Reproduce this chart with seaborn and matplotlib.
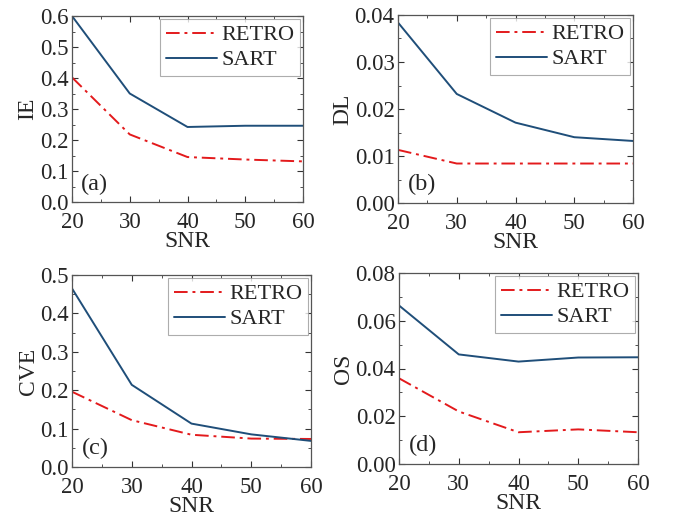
import matplotlib
matplotlib.use("Agg")
import matplotlib.pyplot as plt
import seaborn as sns
import pandas as pd
from matplotlib.ticker import AutoMinorLocator

snr = [20, 30, 40, 50, 60]
ie_retro = [0.402, 0.218, 0.145, 0.137, 0.131]
ie_sart = [0.600, 0.350, 0.242, 0.246, 0.246]
dl_retro = [0.0113, 0.0084, 0.0084, 0.0084, 0.0084]
dl_sart = [0.0384, 0.0232, 0.0171, 0.0140, 0.0132]
cve_retro = [0.196, 0.122, 0.084, 0.074, 0.073]
cve_sart = [0.465, 0.214, 0.113, 0.085, 0.068]
os_retro = [0.0359, 0.0220, 0.0133, 0.0145, 0.0133]
os_sart = [0.0664, 0.0459, 0.0429, 0.0446, 0.0447]

panels = [
    ("IE", "(a)", ie_retro, ie_sart, [0.0, 0.1, 0.2, 0.3, 0.4, 0.5, 0.6], "{:.1f}"),
    ("DL", "(b)", dl_retro, dl_sart, [0.0, 0.01, 0.02, 0.03, 0.04], "{:.2f}"),
    ("CVE", "(c)", cve_retro, cve_sart, [0.0, 0.1, 0.2, 0.3, 0.4, 0.5], "{:.1f}"),
    ("OS", "(d)", os_retro, os_sart, [0.0, 0.02, 0.04, 0.06, 0.08], "{:.2f}"),
]

sns.set_style("ticks")
plt.rcParams['font.family'] = ['Liberation Serif', 'DejaVu Serif']
plt.rcParams['font.size'] = 17

fig = plt.figure(figsize=(6.75, 5.19), dpi=100)
rects = [
    [72/675, 1-202/519, 231/675, 186/519],
    [398/675, 1-203/519, 235/675, 188/519],
    [72/675, 1-467/519, 239/675, 192/519],
    [399/675, 1-464/519, 239/675, 191/519],
]

palette = {"RETRO": "#e31a1c", "SART": "#1f4e79"}
dashes = {"RETRO": (7, 2.5, 1.5, 2.5), "SART": ""}

for rect, (ylab, tag, retro, sart, yt, fmt) in zip(rects, panels):
    ax = fig.add_axes(rect)
    df = pd.DataFrame({
        "SNR": snr + snr,
        "val": retro + sart,
        "method": ["RETRO"] * len(snr) + ["SART"] * len(snr),
    })
    sns.lineplot(data=df, x="SNR", y="val", hue="method", style="method",
                 palette=palette, dashes=dashes, linewidth=1.4, ax=ax)
    ax.set_xlim(20, 60)
    ax.set_ylim(yt[0], yt[-1])
    ax.set_xticks(snr)
    ax.set_yticks(yt)
    ax.set_yticklabels([fmt.format(v) for v in yt])
    ax.xaxis.set_minor_locator(AutoMinorLocator(2))
    ax.yaxis.set_minor_locator(AutoMinorLocator(2))
    ax.tick_params(which="both", direction="in", top=True, right=True,
                   labelsize=16.5, color="#333333")
    ax.tick_params(axis="x", pad=7)
    ax.tick_params(axis="y", pad=2.5)
    ax.tick_params(which="major", length=4)
    ax.tick_params(which="minor", length=2)
    for s in ax.spines.values():
        s.set_color("#555555")
        s.set_linewidth(0.9)
    ax.set_xlabel("SNR", fontsize=17, labelpad=-1.5)
    ax.set_ylabel(ylab, fontsize=17, labelpad=1)
    ax.text(0.04, 0.04, tag, transform=ax.transAxes, fontsize=17.5,
            ha="left", va="bottom")
    leg = ax.legend(loc="upper right", fontsize=16, frameon=True, fancybox=False,
                    borderaxespad=0.15, handlelength=2.3, handletextpad=0.2,
                    borderpad=0.25, labelspacing=0.2)
    leg.get_frame().set_edgecolor("#999999")
    leg.get_frame().set_linewidth(0.8)
    leg.set_title(None)

fig.savefig("out.png", dpi=100)
